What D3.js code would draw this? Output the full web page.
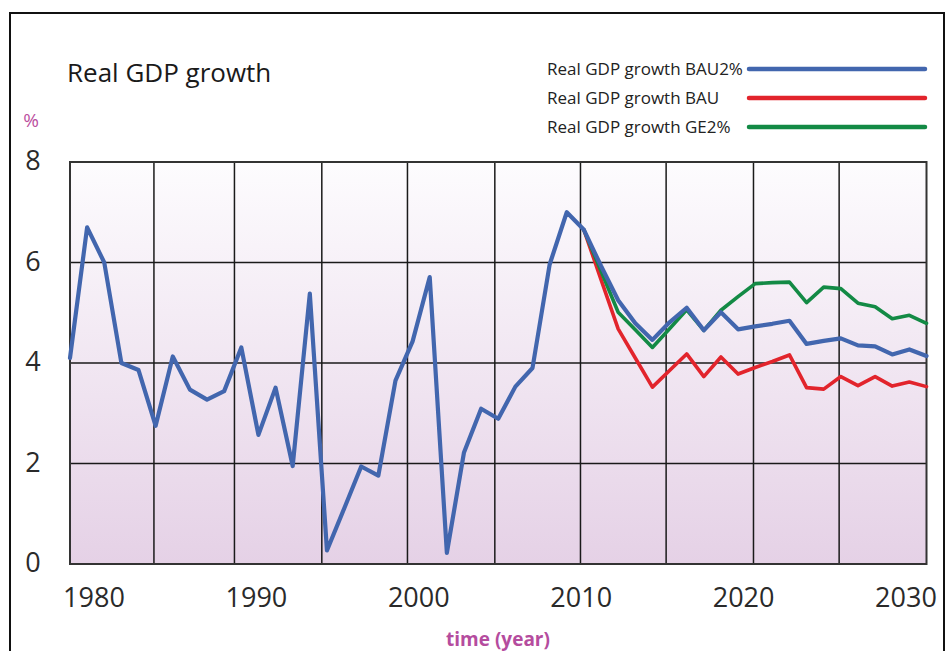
<!DOCTYPE html>
<html>
<head>
<meta charset="utf-8">
<script src="https://cdn.jsdelivr.net/npm/d3@7"></script>
<style>
  body { margin: 0; background: #fff; }
  svg { display: block; font-family: "Open Sans", "Noto Sans", sans-serif; }
</style>
</head>
<body>
<div id="chart"></div>
<script>
// historical real GDP growth (%)
var histYears = [1980, 1981, 1982, 1983, 1984, 1985, 1986, 1987, 1988, 1989,
                 1990, 1991, 1992, 1993, 1994, 1995, 1996, 1997, 1998, 1999,
                 2000, 2001, 2002, 2003, 2004, 2005, 2006, 2007, 2008, 2009, 2010];
var histValues = [4.1, 6.7, 6.0, 4.0, 3.86, 2.75, 4.13, 3.47, 3.27, 3.44,
                  4.31, 2.57, 3.51, 1.95, 5.38, 0.27, 1.1, 1.94, 1.76, 3.65,
                  4.43, 5.71, 0.22, 2.22, 3.09, 2.89, 3.53, 3.9, 5.96, 7.0, 6.65];

// scenario years 2010-2030
var projYears = d3.range(2010, 2031);
var bau2Values = [6.65, 5.93, 5.25, 4.79, 4.46, 4.81, 5.10, 4.65, 5.01, 4.67,
                  4.73, 4.78, 4.84, 4.38, 4.44, 4.49, 4.35, 4.33, 4.17, 4.27, 4.14];
var bauValues  = [6.65, 5.66, 4.68, 4.10, 3.52, 3.85, 4.18, 3.73, 4.12, 3.78,
                  3.91, 4.03, 4.16, 3.51, 3.48, 3.73, 3.55, 3.73, 3.54, 3.62, 3.53];
var ge2Values  = [6.65, 5.83, 5.01, 4.66, 4.31, 4.68, 5.06, 4.65, 5.05, 5.32,
                  5.58, 5.60, 5.61, 5.20, 5.51, 5.48, 5.19, 5.12, 4.88, 4.95, 4.79];

var xTickLabels = [1980, 1990, 2000, 2010, 2020, 2030];
// vertical grid lines, roughly every 5 years (they are a bit uneven in the picture)
var gridYears = [1984.9, 1989.6, 1994.7, 1999.7, 2004.8, 2009.8, 2014.8, 2019.9, 2024.9];
var yTicks = [0, 2, 4, 6, 8];
var legendNames = ["Real GDP growth BAU2%", "Real GDP growth BAU", "Real GDP growth GE2%"];
var seriesColors = ["#4266ae", "#e2242c", "#138a45"];

var W = 950, H = 651;
var plot = { left: 70, right: 926.5, top: 162, bottom: 564 };

var svg = d3.select("#chart").append("svg")
            .attr("width", W).attr("height", H);

// outer frame
svg.append("rect").attr("x", 10).attr("y", 13)
   .attr("width", 934).attr("height", H + 10)
   .attr("fill", "none").attr("stroke", "#111").attr("stroke-width", 2);

var defs = svg.append("defs");
var grad = defs.append("linearGradient").attr("id", "bg")
               .attr("x1", 0).attr("y1", 0).attr("x2", 0).attr("y2", 1);
grad.append("stop").attr("offset", "0%").attr("stop-color", "#fdfcfe");
grad.append("stop").attr("offset", "100%").attr("stop-color", "#e5d1e6");

var x = d3.scaleLinear().domain([1980, 2030]).range([plot.left, plot.right]);
var y = d3.scaleLinear().domain([0, 8]).range([plot.bottom, plot.top]);
// the year labels in the picture sit a little off the grid
var xLab = d3.scaleLinear().domain([1980, 2030]).range([94, 906]);

svg.append("rect")
   .attr("x", x(1980)).attr("y", y(8))
   .attr("width", x(2030) - x(1980)).attr("height", y(0) - y(8))
   .attr("fill", "url(#bg)");

// grid
var grid = svg.append("g").attr("stroke", "#1a1a1a").attr("stroke-width", 1.5);
gridYears.forEach(function(yr) {
  grid.append("line").attr("x1", x(yr)).attr("x2", x(yr))
      .attr("y1", y(8)).attr("y2", y(0));
});
yTicks.slice(1, -1).forEach(function(v) {
  grid.append("line").attr("x1", x(1980)).attr("x2", x(2030))
      .attr("y1", y(v)).attr("y2", y(v));
});
svg.append("rect")
   .attr("x", x(1980)).attr("y", y(8))
   .attr("width", x(2030) - x(1980)).attr("height", y(0) - y(8))
   .attr("fill", "none").attr("stroke", "#333").attr("stroke-width", 2);

// y labels
svg.append("g").selectAll("text").data(yTicks).enter().append("text")
   .attr("x", 33).attr("y", function(d) { return y(d) + 8; })
   .attr("text-anchor", "middle")
   .style("font-size", "27px").style("fill", "#2a2a2a")
   .text(function(d) { return d; });

// x labels
svg.append("g").selectAll("text").data(xTickLabels).enter().append("text")
   .attr("x", function(d) { return xLab(d); }).attr("y", 607)
   .attr("text-anchor", "middle")
   .style("font-size", "27px").style("fill", "#2a2a2a")
   .text(function(d) { return d; });

svg.append("text").attr("x", 31).attr("y", 127).attr("text-anchor", "middle")
   .style("font-size", "19px").style("fill", "#bb4fa0").text("%");

svg.append("text").attr("x", 498).attr("y", 646).attr("text-anchor", "middle")
   .style("font-size", "19px").style("font-weight", "bold").style("fill", "#b54c9e")
   .text("time (year)");

svg.append("text").attr("x", 67).attr("y", 82)
   .style("font-size", "26px").style("fill", "#1a1a1a")
   .text("Real GDP growth");

// lines
var line = d3.line()
             .x(function(d) { return x(d[0]); })
             .y(function(d) { return y(d[1]); });

function pairs(years, vals) {
  return years.map(function(yr, i) { return [yr, vals[i]]; });
}

var lines = svg.append("g").attr("fill", "none")
               .attr("stroke-linejoin", "round").attr("stroke-linecap", "round");
lines.append("path").attr("d", line(pairs(projYears, bauValues)))
     .attr("stroke", seriesColors[1]).attr("stroke-width", 3.6);
lines.append("path").attr("d", line(pairs(projYears, ge2Values)))
     .attr("stroke", seriesColors[2]).attr("stroke-width", 3.6);
lines.append("path")
     .attr("d", line(pairs(histYears, histValues).concat(pairs(projYears, bau2Values).slice(1))))
     .attr("stroke", seriesColors[0]).attr("stroke-width", 4.2);

// legend
var legend = svg.append("g");
legendNames.forEach(function(name, i) {
  var ly = 69 + i * 29;
  legend.append("text").attr("x", 547).attr("y", ly + 6)
        .style("font-size", "17px").style("fill", "#222").text(name);
  legend.append("line").attr("x1", 749).attr("x2", 925)
        .attr("y1", ly).attr("y2", ly)
        .attr("stroke", seriesColors[i]).attr("stroke-width", 4.5)
        .attr("stroke-linecap", "round");
});
</script>
</body>
</html>
